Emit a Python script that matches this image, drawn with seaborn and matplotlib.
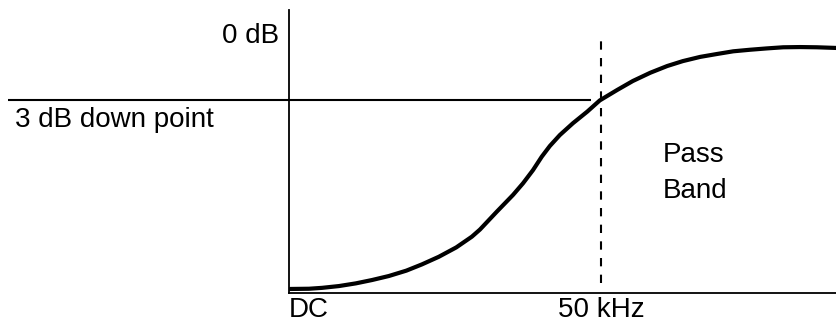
import numpy as np
import pandas as pd
import matplotlib
matplotlib.use("Agg")
import matplotlib.pyplot as plt
import seaborn as sns

# ── Data (frequency in kHz, response in dB, schematic) ────────────────
freq_khz = [0.2, 3.2, 5.3, 8.0, 10.7, 13.3, 16.0, 18.8, 21.3, 24.0,
            26.8, 29.3, 30.6, 33.3, 35.9, 37.5, 39.1, 40.5, 41.8, 43.4,
            45.5, 47.8, 49.8, 52.6, 55.1, 57.9, 60.6, 63.1, 65.9, 68.6,
            71.2, 73.9, 76.6, 79.2, 81.9, 84.6, 87.7]
gain_db = [-11.46, -11.45, -11.41, -11.33, -11.21, -11.06, -10.88, -10.64, -10.36, -10.02,
           -9.60, -9.12, -8.80, -8.00, -7.25, -6.73, -6.14, -5.54, -5.06, -4.57,
           -4.04, -3.52, -3.02, -2.55, -2.15, -1.78, -1.48, -1.26, -1.07, -0.94,
           -0.82, -0.75, -0.69, -0.64, -0.63, -0.64, -0.67]

cutoff_khz = 50.0
down_db = -3.0
x_ticks = [0, cutoff_khz]
x_labels = ["DC", "50 kHz"]
y_ticks = [0]
y_labels = ["0 dB"]

df = pd.DataFrame({"freq": freq_khz, "gain": gain_db})

sns.set_style("white")
plt.rcParams["font.family"] = ["Liberation Sans", "DejaVu Sans"]
plt.rcParams["text.color"] = "black"
plt.rcParams["xtick.color"] = "black"
plt.rcParams["ytick.color"] = "black"

fig = plt.figure(figsize=(8.36, 3.25), dpi=100)
ax = fig.add_axes([0.3457, 0.0985, 0.6543, 0.8708])

# response curve
sns.lineplot(data=df, x="freq", y="gain", ax=ax, color="black",
             linewidth=3.0, sort=False, estimator=None)

# 3 dB reference line, extends left of the axis
ax.plot([-45.0, 48.4], [down_db, down_db], color="black", linewidth=1.5,
        clip_on=False, solid_capstyle="butt")

# cutoff marker
ax.plot([cutoff_khz, cutoff_khz], [-11.2, -0.18], color="black",
        linewidth=1.5, dashes=(4, 4))

ax.text(-43.9, -4.21, "3 dB down point", fontsize=20, va="baseline",
        ha="left", clip_on=False)
ax.text(59.9, -5.76, "Pass", fontsize=20, va="baseline", ha="left")
ax.text(59.9, -7.39, "Band", fontsize=20, va="baseline", ha="left")

ax.set_xlim(0, 87.66)
ax.set_ylim(-11.64, 1.03)
ax.set_xticks(x_ticks, x_labels, fontsize=20)
ax.set_yticks(y_ticks, y_labels, fontsize=20)
ax.get_xticklabels()[0].set_horizontalalignment("left")
ax.tick_params(axis="both", length=0)
ax.tick_params(axis="x", pad=3)
ax.tick_params(axis="y", pad=7)
ax.set_xlabel("")
ax.set_ylabel("")

sns.despine(ax=ax)
for side in ["left", "bottom"]:
    ax.spines[side].set_color("black")
    ax.spines[side].set_linewidth(1.3)

fig.savefig("out.png", dpi=100)
